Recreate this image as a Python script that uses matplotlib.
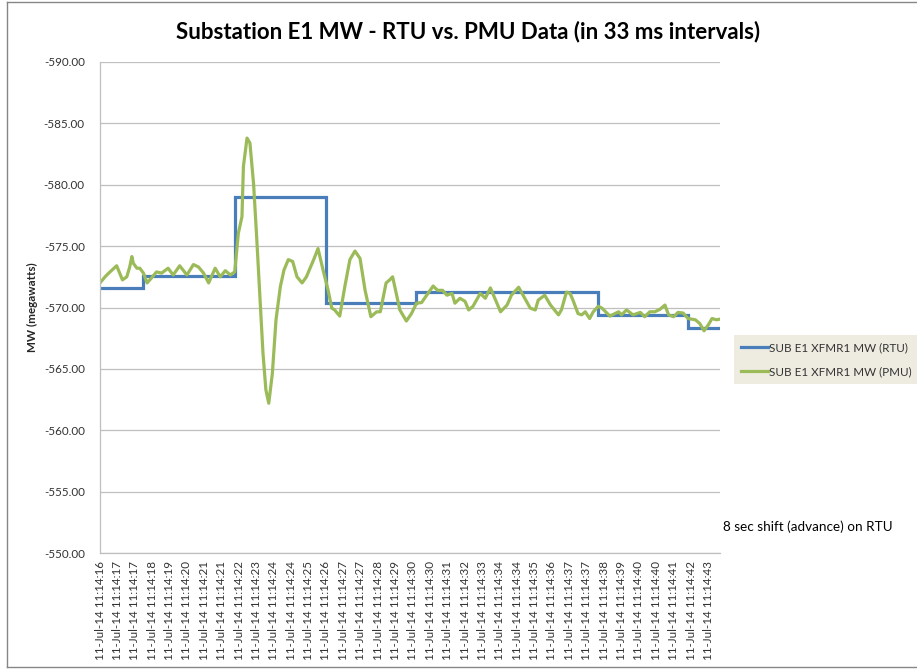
import matplotlib
matplotlib.use("Agg")
import matplotlib.pyplot as plt
from matplotlib.lines import Line2D

plt.rcParams['font.family'] = ['Lato', 'DejaVu Sans']

# ---------------- data ----------------
# sample index (33 ms samples) where the RTU value changes, and the value held from there
rtu_idx = [0, 60, 186, 312, 436, 687, 812, 856]
rtu_mw = [-571.6, -572.6, -579.0, -570.4, -571.25, -569.35, -568.3, -568.3]

# PMU trace (sample index, MW)
pmu_idx = [0, 7, 12, 21, 23, 31, 37, 41, 44, 46, 51, 55, 60, 65, 71, 78, 85, 94, 101, 110,
           120, 129, 136, 143, 150, 159, 166, 173, 180, 186, 191, 196, 198, 203, 207, 212, 216, 221, 225, 229,
           233, 238, 243, 249, 254, 260, 266, 272, 279, 285, 295, 301, 308, 315, 320, 324, 331, 338, 345, 352,
           359, 366, 374, 382, 387, 395, 400, 404, 410, 414, 423, 430, 437, 444, 451, 460, 466, 473, 479, 486,
           490, 497, 504, 509, 515, 525, 532, 539, 548, 553, 562, 568, 578, 585, 594, 601, 605, 614, 622, 633,
           637, 644, 649, 653, 660, 665, 670, 676, 681, 688, 693, 704, 716, 720, 727, 736, 746, 752, 759, 766,
           773, 780, 785, 792, 798, 805, 812, 822, 828, 834, 840, 845, 851, 856]
pmu_mw = [-572.0, -572.5, -572.8, -573.3, -573.4, -572.25, -572.5, -573.3, -574.15, -573.6,
          -573.2, -573.2, -572.8, -572.0, -572.4, -572.9, -572.8, -573.2, -572.65, -573.4,
          -572.65, -573.5, -573.3, -572.8, -572.0, -573.2, -572.5, -573.0, -572.65, -572.9,
          -576.05, -577.4, -581.5, -583.8, -583.4, -580.1, -576.05, -570.6, -566.3, -563.3,
          -562.2, -564.65, -569.0, -571.7, -573.05, -573.9, -573.75, -572.5, -572.0, -572.5,
          -573.9, -574.8, -573.05, -571.4, -569.95, -569.8, -569.3, -571.7, -573.9, -574.6,
          -574.0, -571.4, -569.25, -569.65, -569.65, -572.0, -572.25, -572.5, -570.9, -569.8,
          -568.9, -569.5, -570.35, -570.4, -571.0, -571.75, -571.4, -571.4, -571.0, -571.15,
          -570.35, -570.75, -570.5, -569.8, -570.1, -571.15, -570.75, -571.6, -570.35, -569.65,
          -570.2, -571.0, -571.65, -570.9, -569.95, -569.8, -570.6, -571.0, -570.2, -569.4,
          -569.8, -571.25, -571.15, -570.6, -569.5, -569.4, -569.65, -569.1, -569.65, -570.1,
          -569.95, -569.3, -569.65, -569.4, -569.8, -569.4, -569.6, -569.25, -569.65, -569.65,
          -569.85, -570.2, -569.4, -569.25, -569.6, -569.55, -569.1, -569.0, -568.7, -568.1,
          -568.6, -569.1, -569.0, -569.05]

tick_idx_step = 24
tick_seconds = [16, 17, 17, 18, 19, 20, 21, 21, 22, 23, 24, 24, 25, 26, 27, 27, 28,
                29, 30, 30, 31, 32, 33, 34, 34, 35, 36, 37, 37, 38, 39, 40, 40, 41, 42, 43]
tick_labels = ["11-Jul-14 11:14:%02d" % s for s in tick_seconds]
y_ticks = [-590, -585, -580, -575, -570, -565, -560, -555, -550]

series_names = ["SUB E1 XFMR1 MW (RTU)", "SUB E1 XFMR1 MW (PMU)"]
title = "Substation E1 MW - RTU vs. PMU Data (in 33 ms intervals)"
note = "8 sec shift (advance) on RTU"

# ---------------- figure ----------------
W, H = 917, 670
fig = plt.figure(figsize=(W / 100, H / 100), dpi=100)
fig.patch.set_facecolor("white")

ax = fig.add_axes([100 / W, 1 - 553 / H, 620 / W, 491 / H])

blue = "#4A7EBB"
green = "#9BBB59"
l1, = ax.plot(rtu_idx, rtu_mw, drawstyle="steps-post", color=blue, lw=2.3, solid_joinstyle="miter")
l2, = ax.plot(pmu_idx, pmu_mw, color=green, lw=2.3, solid_joinstyle="round")

ax.set_xlim(0, 856)
ax.set_ylim(-550, -590)
ax.set_yticks(y_ticks)
ax.set_yticklabels(["%.2f" % v for v in y_ticks])
ax.set_xticks([i * tick_idx_step for i in range(len(tick_labels))])
ax.set_xticklabels(tick_labels, rotation=90)

ax.tick_params(axis="both", length=0, colors="#333333", labelsize=8.4)
ax.tick_params(axis="y", pad=11)
ax.tick_params(axis="x", pad=6)
ax.grid(axis="y", color="#BFBFBF", lw=0.9)
ax.set_axisbelow(True)
for s in ["top", "right"]:
    ax.spines[s].set_visible(False)
for s in ["left", "bottom"]:
    ax.spines[s].set_color("#BFBFBF")
    ax.spines[s].set_linewidth(0.9)

ax.set_ylabel("MW (megawatts)", fontsize=8.4, fontweight="bold", color="#262626", labelpad=4)

fig.text(468 / W, 1 - 32 / H, title, ha="center", va="center", fontsize=16, fontweight="bold", color="#000000")
fig.text(723 / W, 1 - 527 / H, note, ha="left", va="center", fontsize=9.7, color="#000000")

leg = fig.legend([l1, l2], series_names, loc="upper left", bbox_to_anchor=(734 / W, 1 - 335 / H),
                 frameon=True, fontsize=8.35, handlelength=2.3, handletextpad=0.15, borderpad=0.6,
                 labelspacing=1.15, borderaxespad=0, fancybox=False)
leg.get_frame().set_facecolor("#EEECE1")
leg.get_frame().set_edgecolor("none")
leg.get_frame().set_alpha(1)
for t in leg.get_texts():
    t.set_color("#333333")

# outer chart border
for (xs, ys) in [([7, 7], [2, 667]), ([7, 930], [2, 2]), ([7, 930], [667, 667])]:
    fig.add_artist(Line2D([x / W for x in xs], [1 - y / H for y in ys], color="#868686", lw=1.0))

fig.savefig("out.png", dpi=100)
